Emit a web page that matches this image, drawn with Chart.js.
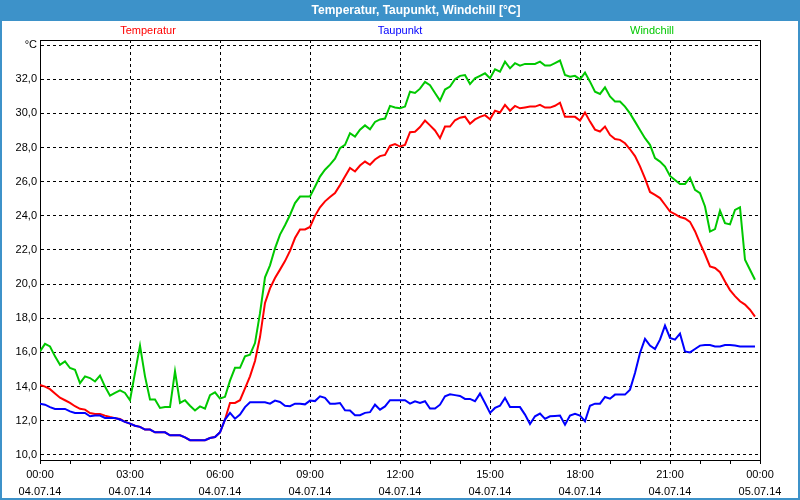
<!DOCTYPE html>
<html>
<head>
<meta charset="utf-8">
<script src="https://cdn.jsdelivr.net/npm/chart.js@4.4.1/dist/chart.umd.min.js"></script>
<style>
html, body { margin: 0; padding: 0; background: #fff; }
</style>
</head>
<body>
<canvas id="myChart" width="800" height="500"></canvas>
<script>
// minutes since 04.07.14 00:00, one reading every 10 minutes
const times = [
    0, 10, 20, 30, 40, 50, 60, 70, 80, 90, 100, 110, 120, 130, 140, 150, 160, 170, 180, 190,
    200, 210, 220, 230, 240, 250, 260, 270, 280, 290, 300, 310, 320, 330, 340, 350, 360, 370, 380, 390,
    400, 410, 420, 430, 440, 450, 460, 470, 480, 490, 500, 510, 520, 530, 540, 550, 560, 570, 580, 590,
    600, 610, 620, 630, 640, 650, 660, 670, 680, 690, 700, 710, 720, 730, 740, 750, 760, 770, 780, 790,
    800, 810, 820, 830, 840, 850, 860, 870, 880, 890, 900, 910, 920, 930, 940, 950, 960, 970, 980, 990,
    1000, 1010, 1020, 1030, 1040, 1050, 1060, 1070, 1080, 1090, 1100, 1110, 1120, 1130, 1140, 1150, 1160, 1170, 1180, 1190,
    1200, 1210, 1220, 1230, 1240, 1250, 1260, 1270, 1280, 1290, 1300, 1310, 1320, 1330, 1340, 1350, 1360, 1370, 1380, 1390,
    1400, 1410, 1420, 1430
];

const temperatur = [
    14.1, 14.0, 13.85, 13.6, 13.35, 13.2, 13.05, 12.85, 12.7, 12.65,
    12.45, 12.4, 12.4, 12.3, 12.22, 12.15, 12.1, 11.93, 11.83, 11.71,
    11.64, 11.48, 11.48, 11.32, 11.32, 11.32, 11.15, 11.15, 11.15, 11.03,
    10.86, 10.86, 10.86, 10.86, 10.99, 11.05, 11.32, 12.07, 13.04, 13.04,
    13.2, 13.9, 14.6, 15.5, 16.9, 18.9, 19.75, 20.36, 20.85, 21.35,
    21.95, 22.7, 23.2, 23.2, 23.35, 24.0, 24.5, 24.85, 25.1, 25.33,
    25.8, 26.3, 26.8, 26.6, 26.95, 27.18, 26.99, 27.3, 27.5, 27.57,
    28.1, 28.2, 28.06, 28.16, 28.9, 28.93, 29.2, 29.58, 29.3, 29.0,
    28.55, 29.23, 29.23, 29.6, 29.75, 29.81, 29.4, 29.65, 29.8, 29.9,
    29.66, 30.16, 30.05, 30.5, 30.16, 30.44, 30.3, 30.35, 30.4, 30.4,
    30.5, 30.34, 30.34, 30.45, 30.63, 29.8, 29.8, 29.8, 29.58, 30.05,
    29.52, 29.05, 28.94, 29.23, 28.74, 28.5, 28.45, 28.25, 27.9, 27.5,
    26.9, 26.2, 25.4, 25.23, 25.04, 24.65, 24.25, 24.1, 23.93, 23.85,
    23.65, 23.1, 22.4, 21.75, 21.04, 20.95, 20.7, 20.15, 19.65, 19.3,
    19.0, 18.8, 18.5, 18.1
];

const taupunkt = [
    13.0, 12.94, 12.8, 12.69, 12.69, 12.69, 12.55, 12.46, 12.46, 12.46,
    12.26, 12.3, 12.3, 12.16, 12.16, 12.16, 12.07, 11.93, 11.83, 11.71,
    11.64, 11.48, 11.48, 11.32, 11.32, 11.32, 11.15, 11.15, 11.15, 11.03,
    10.86, 10.86, 10.86, 10.86, 10.99, 11.05, 11.32, 12.07, 12.46, 12.12,
    12.36, 12.8, 13.08, 13.08, 13.08, 13.08, 13.0, 13.18, 13.1, 12.88,
    12.85, 13.0, 13.0, 12.96, 13.18, 13.15, 13.43, 13.34, 13.0, 13.0,
    13.04, 12.61, 12.6, 12.32, 12.32, 12.46, 12.5, 12.94, 12.65, 12.84,
    13.2, 13.2, 13.2, 13.2, 13.0, 13.14, 13.04, 13.14, 12.71, 12.71,
    12.94, 13.43, 13.55, 13.5, 13.45, 13.28, 13.28, 13.14, 13.59, 13.04,
    12.46, 12.75, 12.88, 13.34, 12.8, 12.8, 12.8, 12.36, 11.81, 12.26,
    12.42, 12.11, 12.26, 12.28, 12.3, 11.77, 12.3, 12.4, 12.3, 11.97,
    12.88, 13.0, 13.0, 13.39, 13.29, 13.53, 13.53, 13.53, 13.82, 14.8,
    15.97, 16.79, 16.4, 16.2, 16.75, 17.57, 16.85, 16.75, 17.1, 16.06,
    16.0, 16.2, 16.4, 16.44, 16.44, 16.35, 16.35, 16.44, 16.44, 16.4,
    16.35, 16.35, 16.35, 16.35
];

const windchill = [
    16.06, 16.5, 16.35, 15.77, 15.28, 15.48, 15.09, 14.99, 14.2, 14.6,
    14.5, 14.3, 14.64, 14.0, 13.47, 13.63, 13.78, 13.63, 13.2, 14.8,
    16.4, 14.6, 13.24, 13.24, 12.75, 12.8, 12.8, 14.89, 13.04, 13.2,
    12.88, 12.6, 12.84, 12.71, 13.5, 13.66, 13.3, 13.4, 14.35, 15.1,
    15.1, 15.77, 15.87, 16.55, 18.3, 20.4, 21.1, 22.1, 22.9, 23.45,
    24.05, 24.75, 25.13, 25.13, 25.13, 25.7, 26.3, 26.7, 27.0, 27.35,
    27.96, 28.16, 28.84, 28.64, 29.05, 29.3, 29.07, 29.5, 29.65, 29.7,
    30.44, 30.35, 30.3, 30.4, 31.27, 31.2, 31.45, 31.85, 31.65, 31.2,
    30.75, 31.4, 31.57, 32.0, 32.2, 32.25, 31.72, 32.05, 32.2, 32.35,
    32.06, 32.58, 32.45, 33.03, 32.64, 32.94, 32.8, 32.9, 32.9, 32.9,
    33.03, 32.8, 32.8, 32.95, 33.1, 32.25, 32.15, 32.2, 32.0, 32.39,
    31.86, 31.27, 31.14, 31.53, 30.99, 30.7, 30.7, 30.4, 30.0, 29.52,
    29.03, 28.55, 28.16, 27.38, 27.18, 26.89, 26.34, 26.1, 25.87, 25.87,
    26.24, 25.52, 25.33, 24.55, 23.08, 23.22, 24.31, 23.57, 23.5, 24.35,
    24.5, 21.43, 20.84, 20.26
];

// axis ticks
const yTickValues = [10, 12, 14, 16, 18, 20, 22, 24, 26, 28, 30, 32, 34];
const yTickLabels = ["10,0", "12,0", "14,0", "16,0", "18,0", "20,0", "22,0", "24,0", "26,0", "28,0", "30,0", "32,0", "°C"];
const xTickMinutes = [0, 60, 120, 180, 240, 300, 360, 420, 480, 540, 600, 660, 720, 780, 840, 900, 960, 1020, 1080, 1140, 1200, 1260, 1320, 1380, 1440];
const xLabelMinutes = [0, 180, 360, 540, 720, 900, 1080, 1260, 1440];
const xTimeLabels = ["00:00", "03:00", "06:00", "09:00", "12:00", "15:00", "18:00", "21:00", "00:00"];
const xDateLabels = ["04.07.14", "04.07.14", "04.07.14", "04.07.14", "04.07.14", "04.07.14", "04.07.14", "04.07.14", "05.07.14"];

const seriesNames = ["Temperatur", "Taupunkt", "Windchill"];
const seriesColors = ["#ff0000", "#0000ff", "#00c800"];

const FONT = '"Liberation Sans", Arial, sans-serif';
const FRAME_BLUE = "#3d92c9";

function toPoints(values) {
    return values.map((v, i) => ({ x: times[i], y: v }));
}

const framePlugin = {
    id: "frame",
    beforeDraw(chart) {
        const c = chart.ctx;
        c.save();
        c.fillStyle = "#ffffff";
        c.fillRect(0, 0, chart.width, chart.height);
        // title bar and window border
        c.fillStyle = FRAME_BLUE;
        c.fillRect(0, 0, chart.width, 21);
        c.fillRect(0, 0, 2, chart.height);
        c.fillRect(chart.width - 2, 0, 2, chart.height);
        c.fillRect(0, chart.height - 2, chart.width, 2);
        c.fillStyle = "#ffffff";
        c.font = "bold 12px " + FONT;
        c.textAlign = "center";
        c.textBaseline = "middle";
        c.fillText("Temperatur, Taupunkt, Windchill [°C]", 416, 11);
        c.restore();
    },
    afterDraw(chart) {
        const c = chart.ctx;
        const a = chart.chartArea;
        c.save();
        // plot frame
        c.strokeStyle = "#000";
        c.lineWidth = 1;
        c.setLineDash([]);
        c.beginPath();
        c.moveTo(Math.round(a.left) + 0.5, Math.round(a.top) + 0.5);
        c.lineTo(Math.round(a.right) + 0.5, Math.round(a.top) + 0.5);
        c.lineTo(Math.round(a.right) + 0.5, Math.round(a.bottom) + 0.5);
        c.stroke();
        // series labels above the plot
        const w = a.right - a.left;
        const spots = [0.15, 0.5, 0.85];
        c.font = "11px " + FONT;
        c.textAlign = "center";
        c.textBaseline = "middle";
        seriesNames.forEach((name, i) => {
            c.fillStyle = seriesColors[i];
            c.fillText(name, a.left + w * spots[i], 31);
        });
        c.restore();
    }
};

const ctx = document.getElementById("myChart");

new Chart(ctx, {
    type: "line",
    data: {
        datasets: [
            {
                label: seriesNames[1],
                data: toPoints(taupunkt),
                borderColor: seriesColors[1],
                borderWidth: 2,
                pointRadius: 0,
                order: 0
            },
            {
                label: seriesNames[0],
                data: toPoints(temperatur),
                borderColor: seriesColors[0],
                borderWidth: 2,
                pointRadius: 0,
                order: 1
            },
            {
                label: seriesNames[2],
                data: toPoints(windchill),
                borderColor: seriesColors[2],
                borderWidth: 2,
                pointRadius: 0,
                order: 2
            }
        ]
    },
    options: {
        responsive: false,
        animation: false,
        layout: { padding: { top: 40, right: 40, left: 0, bottom: 0 } },
        plugins: {
            legend: { display: false },
            title: { display: false },
            tooltip: { enabled: false }
        },
        scales: {
            x: {
                type: "linear",
                min: 0,
                max: 1440,
                afterBuildTicks: (scale) => {
                    scale.ticks = xTickMinutes.map(v => ({ value: v }));
                },
                afterFit: (scale) => { scale.height = 40; },
                ticks: {
                    autoSkip: false,
                    maxRotation: 0,
                    padding: 2,
                    color: "#000",
                    font: { family: FONT, size: 11, lineHeight: 1.55 },
                    callback: (value) => {
                        const k = xLabelMinutes.indexOf(value);
                        return k < 0 ? "" : [xTimeLabels[k], xDateLabels[k]];
                    }
                },
                grid: {
                    color: (c) => (c.tick && c.tick.value % 180 === 0) ? "#000" : "rgba(0,0,0,0)",
                    tickColor: "#000",
                    tickLength: 4,
                    lineWidth: 1
                },
                border: { display: true, color: "#000", width: 1, dash: [3, 3] }
            },
            y: {
                min: 9.7,
                max: 34.3,
                afterBuildTicks: (scale) => {
                    scale.ticks = yTickValues.map(v => ({ value: v }));
                },
                afterFit: (scale) => { scale.width = 40; },
                ticks: {
                    padding: 3,
                    color: "#000",
                    font: { family: FONT, size: 11 },
                    callback: (value) => {
                        const k = yTickValues.indexOf(value);
                        return k < 0 ? "" : yTickLabels[k];
                    }
                },
                grid: {
                    color: "#000",
                    drawTicks: false,
                    lineWidth: 1
                },
                border: { display: true, color: "#000", width: 1, dash: [3, 3] }
            }
        }
    },
    plugins: [framePlugin]
});
</script>
</body>
</html>
